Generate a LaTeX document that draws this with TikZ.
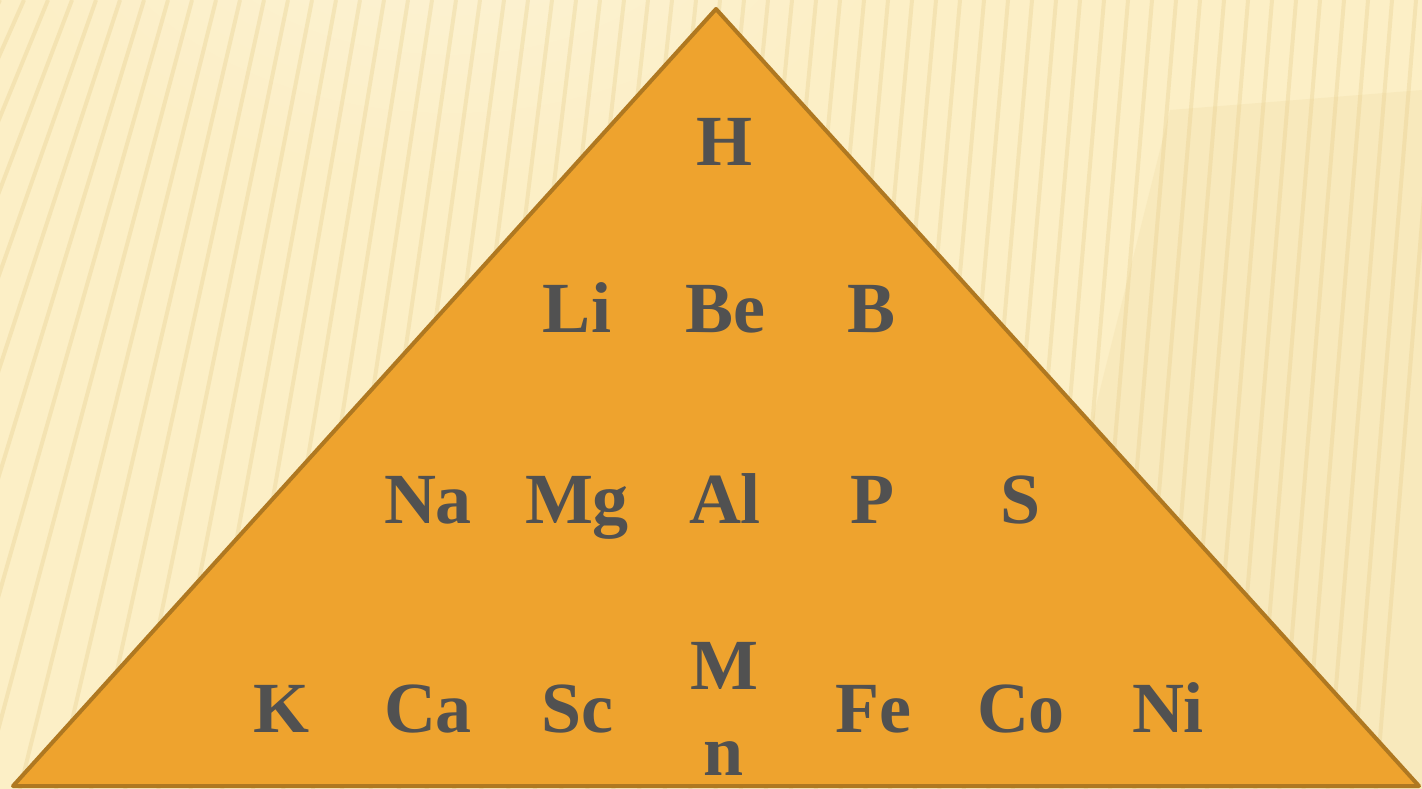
\documentclass[tikz,border=0pt]{standalone}
\usepackage{fontspec}
\setmainfont{Liberation Serif}
\usetikzlibrary{shadings}
\definecolor{bgbase}{HTML}{FCEFC6}
\definecolor{bglight}{HTML}{FEF5D8}
\definecolor{stripe}{HTML}{E6CC88}
\definecolor{trifill}{HTML}{EEA32E}
\definecolor{triedge}{HTML}{AF7821}
\definecolor{elem}{HTML}{515151}
\tikzset{
  elemlabel/.style={font=\fontsize{72}{88}\selectfont\bfseries, text=elem, anchor=base, inner sep=0pt, align=center},
  stripeline/.style={draw=stripe, line width=4pt, opacity=0.32},
  pyramid/.style={fill=trifill, draw=triedge, line width=4pt, line join=round}
}
\begin{document}
\begin{tikzpicture}[x=1pt,y=-1pt]
\useasboundingbox (0,0) rectangle (1422,789);
% background
\fill[bgbase] (0,0) rectangle (1422,789);
\shade[inner color=bglight, outer color=bgbase, opacity=0.9] (450,-150) ellipse (500 and 350);
\fill[stripe, opacity=0.15] (1170,110) -- (1422,90) -- (1422,789) -- (1000,789) -- cycle;
\foreach \i in {-20,...,60}{
  \pgfmathsetmacro{\xt}{\i*24}
  \pgfmathsetmacro{\s}{0.08+0.4*exp(-max(0,\xt)/250)}
  \pgfmathsetmacro{\xb}{\xt-\s*789}
  \draw[stripeline] (\xt,0) -- (\xb,789);
}
% pyramid
\coordinate (apex) at (716,9);
\coordinate (bl) at (13,786);
\coordinate (br) at (1419,786);
\path[pyramid] (apex) -- (bl) -- (br) -- cycle;
% elements
\node[elemlabel] (H) at (724,165) {H};
\node[elemlabel] (Li) at (577,332) {Li};
\node[elemlabel] (Be) at (725,332) {Be};
\node[elemlabel] (B) at (872,332) {B};
\node[elemlabel] (Na) at (428,523) {Na};
\node[elemlabel] (Mg) at (577,523) {Mg};
\node[elemlabel] (Al) at (725,523) {Al};
\node[elemlabel] (P) at (872,523) {P};
\node[elemlabel] (S) at (1021,523) {S};
\node[elemlabel] (K) at (281,732) {K};
\node[elemlabel] (Ca) at (428,732) {Ca};
\node[elemlabel] (Sc) at (577,732) {Sc};
\node[elemlabel] (M) at (724,689) {M};
\node[elemlabel] (n) at (724,775) {n};
\node[elemlabel] (Fe) at (873,732) {Fe};
\node[elemlabel] (Co) at (1021,732) {Co};
\node[elemlabel] (Ni) at (1168,732) {Ni};
\end{tikzpicture}
\end{document}
